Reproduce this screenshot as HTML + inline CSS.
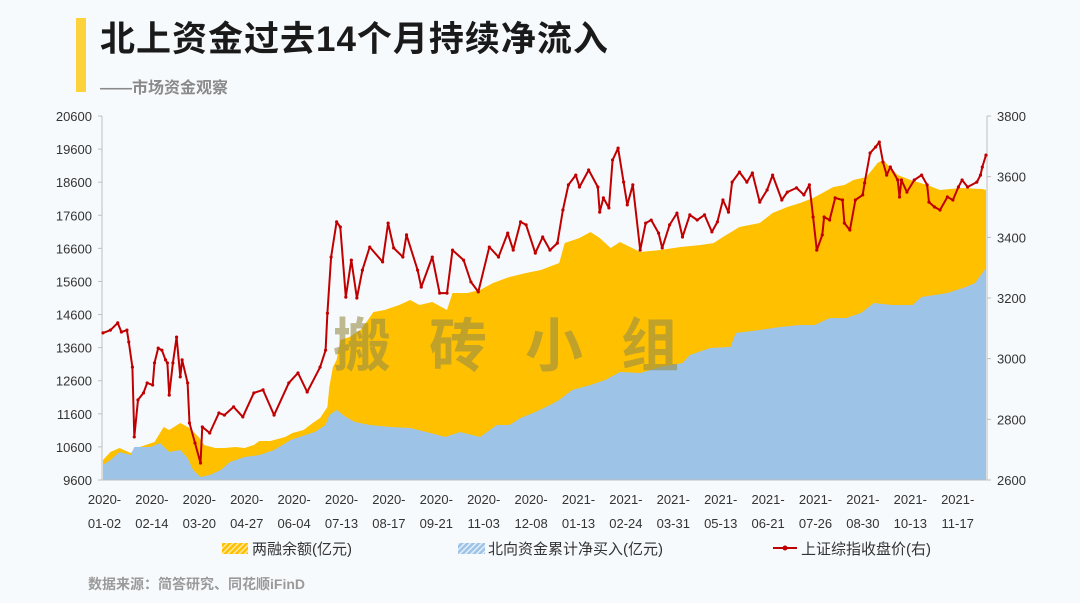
<!DOCTYPE html>
<html><head><meta charset="utf-8">
<style>
html,body{margin:0;padding:0;background:#f7fafd;}
body{width:1080px;height:603px;position:relative;overflow:hidden;font-family:"Liberation Sans","Noto Sans CJK SC",sans-serif;}
#title{position:absolute;left:100px;top:18px;font-size:35px;font-weight:bold;color:#1a1a1a;letter-spacing:1px;line-height:44px;}
#bar{position:absolute;left:76px;top:18px;width:10px;height:74px;background:#fdd23b;}
#sub{position:absolute;left:100px;top:74px;font-size:16px;color:#8a8a8a;font-weight:bold;}
#src{position:absolute;left:88px;top:574px;font-size:14px;color:#9a9a9a;font-weight:bold;}
svg{position:absolute;left:0;top:0;}
</style></head><body>
<div id="bar"></div>
<div id="title">北上资金过去14个月持续净流入</div>
<div id="sub">——市场资金观察</div>
<div id="src">数据来源：简答研究、同花顺iFinD</div>
<svg id="chart" width="1080" height="603">
<defs>
<pattern id="hy" width="4" height="4" patternUnits="userSpaceOnUse" patternTransform="rotate(45)"><rect width="4" height="4" fill="#ffc000"/><rect width="1.5" height="4" fill="#ffe9a0"/></pattern>
<pattern id="hb" width="4" height="4" patternUnits="userSpaceOnUse" patternTransform="rotate(45)"><rect width="4" height="4" fill="#9dc3e6"/><rect width="1.5" height="4" fill="#e3eefa"/></pattern>
</defs>
</svg>
<script>
const xLabelsTop=["2020-","2020-","2020-","2020-","2020-","2020-","2020-","2020-","2020-","2020-","2021-","2021-","2021-","2021-","2021-","2021-","2021-","2021-","2021-"];
const xLabelsBot=["01-02","02-14","03-20","04-27","06-04","07-13","08-17","09-21","11-03","12-08","01-13","02-24","03-31","05-13","06-21","07-26","08-30","10-13","11-17"];
const leftTicks=[9600,10600,11600,12600,13600,14600,15600,16600,17600,18600,19600,20600];
const rightTicks=[2600,2800,3000,3200,3400,3600,3800];
const marginDays=[0,4,9,15,20,28,33,36,42,47,52,55,61,66,72,77,82,85,91,99,103,109,114,118,122,123,125,127,129,134,140,144,147,153,161,167,172,179,187,190,198,205,212,221,230,238,248,251,259,265,270,276,281,292,303,314,325,332,337,346,357,364,372,379,386,391,397,403,408,415,421,424,432,439,448,455,466,478,480];
const marginVals=[10204,10446,10567,10416,10597,10748,11202,11111,11322,11171,10899,10658,10567,10567,10597,10567,10658,10778,10778,10899,11020,11111,11322,11474,11806,12410,13015,13226,13831,13921,14133,14435,14677,14737,14888,15040,14888,14979,14737,15251,15251,15342,15553,15735,15855,15946,16158,16762,16913,17094,16913,16611,16792,16490,16551,16641,16702,16762,16943,17246,17366,17669,17850,17971,18122,18273,18454,18515,18666,18757,19180,19270,18817,18666,18515,18364,18424,18394,18364];
const northDays=[0,4,9,15,17,26,31,36,42,46,49,53,58,64,69,77,85,93,102,110,115,121,123,127,132,137,145,156,167,178,186,194,205,214,221,227,235,243,248,255,265,273,281,292,303,315,319,330,341,344,357,368,379,387,395,404,412,419,429,440,445,459,469,474,478,480];
const northVals=[10053,10204,10446,10355,10597,10597,10718,10446,10507,10265,9902,9691,9751,9902,10144,10295,10355,10507,10809,10960,11050,11262,11564,11715,11504,11353,11262,11202,11171,11020,10899,11050,10899,11262,11262,11474,11655,11866,12018,12320,12471,12622,12864,12834,13015,13136,13377,13589,13619,14042,14133,14224,14284,14284,14496,14496,14647,14949,14888,14888,15130,15251,15432,15553,15855,16007];
const indexDays=[0,4,8,10,13,14,16,17,19,22,24,27,28,30,32,34,35,36,38,40,42,43,46,47,50,53,54,58,63,66,71,76,82,87,93,101,106,111,118,121,122,124,127,129,132,135,138,141,145,152,155,158,163,165,171,173,179,183,187,190,196,200,204,210,215,220,223,227,230,235,239,243,247,250,253,257,259,264,269,270,272,275,277,280,283,285,288,292,295,298,302,304,308,312,315,319,323,327,331,334,337,340,342,346,350,353,357,361,364,369,372,377,381,384,386,388,391,392,395,398,402,403,406,409,413,414,417,420,422,424,426,428,432,433,434,437,441,445,448,449,452,455,459,462,465,467,470,475,477,478,480];
const indexVals=[3085,3094,3118,3088,3094,3055,2972,2742,2864,2887,2920,2913,2986,3035,3028,2996,2986,2880,2986,3071,2940,2996,2920,2788,2722,2656,2775,2755,2821,2814,2841,2808,2887,2897,2814,2920,2953,2890,2972,3028,3150,3335,3451,3434,3203,3325,3200,3292,3368,3319,3447,3365,3335,3408,3292,3236,3335,3216,3216,3358,3325,3253,3220,3368,3335,3414,3358,3451,3441,3348,3401,3358,3381,3490,3573,3605,3566,3622,3566,3483,3530,3497,3655,3694,3582,3507,3573,3358,3447,3457,3414,3365,3441,3480,3401,3474,3457,3474,3418,3451,3523,3483,3582,3615,3582,3612,3516,3556,3605,3523,3549,3563,3540,3573,3467,3358,3408,3467,3457,3530,3523,3447,3424,3523,3540,3579,3678,3698,3714,3648,3605,3632,3589,3533,3589,3549,3589,3605,3573,3516,3500,3490,3533,3523,3566,3589,3566,3582,3605,3632,3671];

const X0=103,X1=986,T0=0,T1=480,YT=116,YB=480;
const xs=t=>X0+(t-T0)/(T1-T0)*(X1-X0);
const yl=v=>YB-(v-9600)/(20600-9600)*(YB-YT);
const yr=v=>YB-(v-2600)/(3800-2600)*(YB-YT);
const svg=document.getElementById('chart');
const NS='http://www.w3.org/2000/svg';
function mk(tag,attrs,parent){const e=document.createElementNS(NS,tag);for(const k in attrs)e.setAttribute(k,attrs[k]);(parent||svg).appendChild(e);return e;}
function areaPath(days,vals){let d='M'+xs(days[0])+','+YB;for(let i=0;i<days.length;i++)d+=' L'+xs(days[i]).toFixed(1)+','+yl(vals[i]).toFixed(1);d+=' L'+xs(days[days.length-1])+','+YB+' Z';return d;}

const ma=mk('path',{d:areaPath(marginDays,marginVals),fill:'#ffc000'});


const na=mk('path',{d:areaPath(northDays,northVals),fill:'#9dc3e6'});



const wm=mk('text',{x:525,y:366,'text-anchor':'middle','font-size':'58','font-weight':'bold',fill:'rgba(150,140,70,0.6)','letter-spacing':'38','font-family':'"Liberation Sans","Noto Sans CJK SC",sans-serif'});
wm.textContent='搬砖小组';



const ax1=mk('line',{x1:102,y1:YT,x2:102,y2:YB,stroke:'#bfbfbf','stroke-width':1});


const ax2=mk('line',{x1:987,y1:YT,x2:987,y2:YB,stroke:'#bfbfbf','stroke-width':1});


const ax3=mk('line',{x1:102,y1:YB,x2:987,y2:YB,stroke:'#bfbfbf','stroke-width':1});



leftTicks.forEach(v=>{
  const y=yl(v);
  mk('line',{x1:98,y1:y,x2:102,y2:y,stroke:'#bfbfbf'});
  const t=mk('text',{x:92,y:y+5,'text-anchor':'end','font-size':'13',fill:'#333'});
  t.textContent=v;
  
  
});
rightTicks.forEach(v=>{
  const y=yr(v);
  mk('line',{x1:987,y1:y,x2:991,y2:y,stroke:'#bfbfbf'});
  const t=mk('text',{x:997,y:y+5,'text-anchor':'start','font-size':'13',fill:'#333'});
  t.textContent=v;
  
  
});
xLabelsTop.forEach((s,i)=>{
  const x=104.5+i*47.4;
  const t1=mk('text',{x:x,y:504,'text-anchor':'middle','font-size':'13',fill:'#333'});
  t1.textContent=s;
  
  
  const t2=mk('text',{x:x,y:528,'text-anchor':'middle','font-size':'13',fill:'#333'});
  t2.textContent=xLabelsBot[i];
  
  
});

let pts=indexDays.map((d,i)=>xs(d).toFixed(1)+','+yr(indexVals[i]).toFixed(1)).join(' ');
const il=mk('polyline',{points:pts,fill:'none',stroke:'#c00000','stroke-width':2,'stroke-linejoin':'round'});


indexDays.forEach((d,i)=>{
  const c=mk('circle',{cx:xs(d),cy:yr(indexVals[i]),r:1.6,fill:'#c00000'});
  
  
});

const lg=mk('g',{});


const s1=mk('rect',{x:222,y:543,width:26,height:11,fill:'url(#hy)'},lg);


const l1=mk('text',{x:252,y:554,'font-size':'15',fill:'#333'},lg);
l1.textContent='两融余额(亿元)';


const s2=mk('rect',{x:458,y:543,width:27,height:11,fill:'url(#hb)'},lg);


const l2=mk('text',{x:488,y:554,'font-size':'15',fill:'#333'},lg);
l2.textContent='北向资金累计净买入(亿元)';


const s3=mk('line',{x1:773,y1:548,x2:797,y2:548,stroke:'#c00000','stroke-width':2},lg);


mk('circle',{cx:785,cy:548,r:2.5,fill:'#c00000'},lg);
const l3=mk('text',{x:801,y:554,'font-size':'15',fill:'#333'},lg);
l3.textContent='上证综指收盘价(右)';


</script>
</body></html>
